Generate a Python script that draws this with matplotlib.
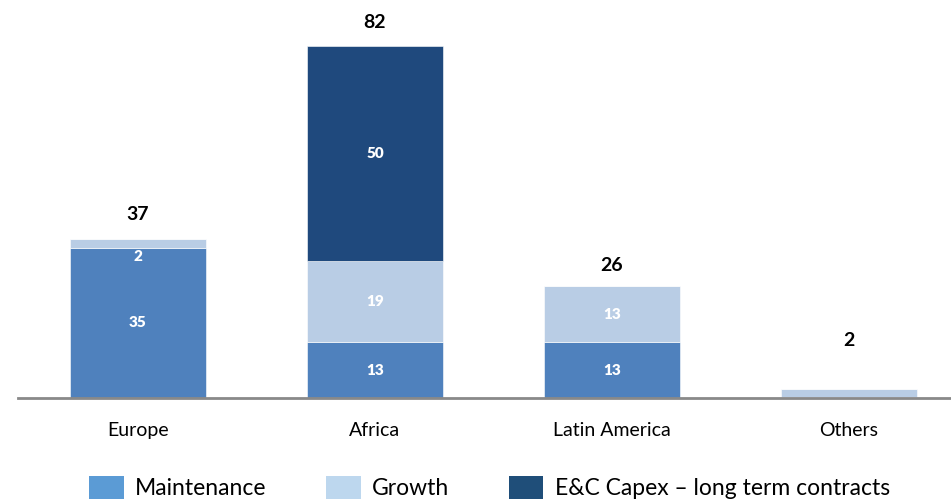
import numpy as np
import matplotlib.pyplot as plt
from matplotlib.patches import Patch

plt.rcParams['font.family'] = ['Lato', 'DejaVu Sans']

# Data
regions = ["Europe", "Africa", "Latin America", "Others"]
maintenance = [35, 13, 13, 0.3]
growth = [2, 19, 13, 1.7]
ec_capex = [0, 50, 0, 0]
totals = [37, 82, 26, 2]
maint_labels = ["35", "13", "13", ""]
growth_labels = ["2", "19", "13", ""]
ec_labels = ["", "50", "", ""]

c_maint = '#4F81BD'
c_growth = '#B9CDE5'
c_ec = '#1F497D'

fig = plt.figure(figsize=(9.51, 5.01), dpi=100)
ax = fig.add_axes([18 / 951, (501 - 398) / 501, 1 - 18 / 951, 398 / 501])

x = np.arange(len(regions))
w = 0.574
maint = np.array(maintenance)
grow = np.array(growth)
ec = np.array(ec_capex)

ax.bar(x, maint, w, color=c_maint, edgecolor='white', linewidth=0.4)
ax.bar(x, grow, w, bottom=maint, color=c_growth, edgecolor='white', linewidth=0.4)
ax.bar(x, ec, w, bottom=maint + grow, color=c_ec, edgecolor='white', linewidth=0.4)

# gap between bar top and the total label (data units)
total_pad = [3.8, 3.6, 2.8, 9.5]

for i in range(len(regions)):
    segs = [(maint[i], 0, maint_labels[i]),
            (grow[i], maint[i], growth_labels[i]),
            (ec[i], maint[i] + grow[i], ec_labels[i])]
    for val, bot, lab in segs:
        if not lab:
            continue
        if val < 4:
            ax.text(x[i], bot - 0.5, lab, ha='center', va='top', color='white',
                    fontsize=11, fontweight='heavy')
        else:
            ax.text(x[i], bot + val / 2, lab, ha='center', va='center', color='white',
                    fontsize=11, fontweight='heavy')
    ax.text(x[i], totals[i] + total_pad[i], str(totals[i]), ha='center', va='bottom',
            fontsize=14, fontweight='bold', color='black')

ax.set_xlim(-0.506, 3.43)
ax.set_ylim(0, 398 / 4.293)
ax.set_xticks(x)
ax.set_xticklabels(regions, fontsize=14)
ax.tick_params(axis='x', length=0, pad=17)
ax.set_yticks([])
for s in ['top', 'right', 'left']:
    ax.spines[s].set_visible(False)
ax.spines['bottom'].set_color('#898989')
ax.spines['bottom'].set_linewidth(2)

handles = [Patch(facecolor='#5B9BD5', label='Maintenance'),
           Patch(facecolor='#BDD7EE', label='Growth'),
           Patch(facecolor='#1F4E79', label='E&C Capex – long term contracts')]
fig.legend(handles=handles, loc='center', bbox_to_anchor=(0.515, 0.027), ncol=3,
           frameon=False, fontsize=16.5, handlelength=1.5, handleheight=1.2,
           columnspacing=2.6, handletextpad=0.5)

fig.savefig('out.png', dpi=100)
